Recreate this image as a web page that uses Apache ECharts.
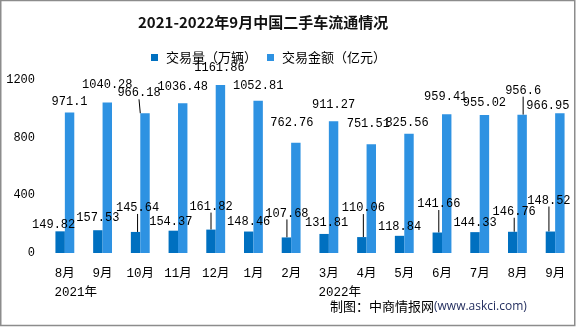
<!DOCTYPE html>
<html>
<head>
<meta charset="utf-8">
<script src="https://cdn.jsdelivr.net/npm/echarts@6/dist/echarts.min.js"></script>
<style>html,body{margin:0;padding:0;background:#fff;}#c{width:576px;height:327px;}</style>
</head>
<body>
<div id="c"></div>
<script>
const categories = ['8月','9月','10月','11月','12月','1月','2月','3月','4月','5月','6月','7月','8月','9月'];
const yearLabels = {0: '2021年', 7: '2022年'};
const volume = [149.82,157.53,145.64,154.37,161.82,148.46,107.68,131.81,110.06,118.84,141.66,144.33,146.76,148.52];
const amount = [971.1,1040.28,966.18,1036.48,1161.86,1052.81,762.76,911.27,751.51,825.56,959.41,955.02,956.6,966.95];
const seriesNames = ['交易量（万辆）','交易金额（亿元）'];
const yTicks = [0,400,800,1200];

// label nudges (layout only)
const volShift = [[-6.5,4],[0,-1],[2,-13],[-2.5,2],[0,-12],[0,1.5],[0.5,-13],[2.5,0],[1.5,-18],[0,2],[1.5,-17.5],[0,1.6],[1.5,-9],[-1.5,-20]];
const amtShift = [[0,0],[0,-7],[-6,-9],[0,-5],[-1,-6],[0,-4],[-4,-9],[0,-5],[-3,-10],[-2,0],[-1,-6],[0,-1],[1,-13],[-12,4]];
const volLeaders = [2,4,6,8,10,12,13];
const amtLeaders = [2,12];

const numFont = "'Liberation Mono','Noto Sans CJK SC',monospace";
const cjkFont = "'Noto Sans CJK SC','Noto Sans',sans-serif";

function items(vals, leaders){
  return vals.map((v,i)=>({value:v, labelLine:{show: leaders.indexOf(i)>=0, lineStyle:{color:'#000',width:1}}}));
}

const chart = echarts.init(document.getElementById('c'), null, {renderer:'canvas'});
chart.setOption({
  animation:false,
  backgroundColor:'#fff',
  title:{
    text:'2021-2022年9月中国二手车流通情况',
    left:133, top:10,
    textStyle:{fontFamily:cjkFont, fontWeight:'bold', fontSize:15, color:'#111'}
  },
  legend:{
    data:seriesNames,
    left:146, top:46,
    itemWidth:7, itemHeight:7, itemGap:10,
    icon:'rect',
    textStyle:{fontFamily:cjkFont, fontSize:13, color:'#000', padding:[0,0,0,3]}
  },
  grid:{left:46, right:2, top:79.5, bottom:74, containLabel:false},
  xAxis:{
    type:'category',
    data:categories,
    axisLine:{show:false}, axisTick:{show:false},
    axisLabel:{
      margin:11, interval:0,
      fontFamily:numFont, fontSize:12.5, color:'#000', lineHeight:19,
      formatter:function(val, idx){
        return yearLabels[idx] ? val + '\n{y|' + yearLabels[idx] + '}' : val;
      },
      rich:{y:{fontFamily:numFont, fontSize:12.5, color:'#000', padding:[0,0,0,22], lineHeight:19}}
    }
  },
  yAxis:{
    type:'value', min:yTicks[0], max:yTicks[yTicks.length-1], interval:400,
    axisLine:{show:false}, axisTick:{show:false}, splitLine:{show:false},
    axisLabel:{margin:11, fontFamily:numFont, fontSize:12, color:'#000', formatter:function(v){return String(v);}}
  },
  series:[
    {
      name:seriesNames[0], type:'bar', data:items(volume, volLeaders),
      barGap:'0%', barCategoryGap:'50%',
      itemStyle:{color:'#0070C0'},
      label:{show:true, position:'top', distance:5, fontFamily:numFont, fontSize:12, color:'#000'},
      labelLayout:function(p){ const s = volShift[p.dataIndex]; return {dx:s[0], dy:s[1]}; }
    },
    {
      name:seriesNames[1], type:'bar', data:items(amount, amtLeaders),
      barGap:'0%', barCategoryGap:'50%',
      itemStyle:{color:'#2E92E2'},
      label:{show:true, position:'top', distance:5, fontFamily:numFont, fontSize:12, color:'#000'},
      labelLayout:function(p){ const s = amtShift[p.dataIndex]; return {dx:s[0], dy:s[1]}; }
    }
  ],
  graphic:[
    {type:'rect', shape:{x:0.75, y:0.5, width:574, height:325}, style:{fill:'none', stroke:'#8c8c8c', lineWidth:1.5}, silent:true},
    {type:'text', left:330, top:300, style:{
      text:'{a|制图：中商情报网}{b|(www.askci.com)}',
      rich:{a:{fontFamily:cjkFont, fontSize:13, fill:'#000'}, b:{fontFamily:"'Open Sans','DejaVu Sans',sans-serif", fontSize:12, fill:'#1f2a5c'}}
    }}
  ]
});
</script>
</body>
</html>
